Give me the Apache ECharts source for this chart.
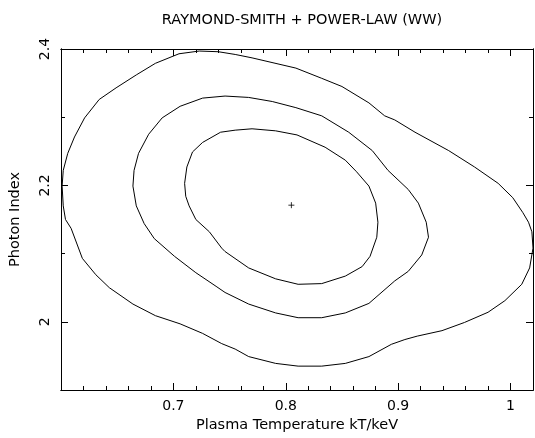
<!DOCTYPE html>
<html><head><meta charset="utf-8">
<script src="https://cdn.jsdelivr.net/npm/echarts@6/dist/echarts.min.js"></script>
<style>html,body{margin:0;padding:0;background:#fff}#c{width:535px;height:438px}</style>
</head><body><div id="c"></div>
<script>
const titleText = 'RAYMOND-SMITH + POWER-LAW (WW)';
const xName = 'Plasma Temperature kT/keV';
const yName = 'Photon Index';
const xRange = [0.6, 1.02];
const yRange = [1.9, 2.4];
const xMajorTicks = [0.7, 0.8, 0.9, 1.0];
const xMinorTicks = [0.62, 0.64, 0.66, 0.68, 0.72, 0.74, 0.76, 0.78, 0.82, 0.84, 0.86, 0.88, 0.92, 0.94, 0.96, 0.98];
const yMajorTicks = [2.0, 2.2, 2.4];
const yMinorTicks = [2.1, 2.3];
const bestFit = [0.805, 2.171];

const innerContour = [
  [0.710, 2.203], [0.712, 2.227], [0.717, 2.249], [0.726, 2.263], [0.742, 2.278], [0.755, 2.281],
  [0.770, 2.283], [0.791, 2.280], [0.810, 2.274], [0.835, 2.256], [0.853, 2.237], [0.863, 2.220],
  [0.874, 2.199], [0.880, 2.174], [0.882, 2.146], [0.881, 2.124], [0.875, 2.096], [0.868, 2.081],
  [0.853, 2.067], [0.832, 2.056], [0.811, 2.055], [0.791, 2.063], [0.767, 2.079], [0.746, 2.103],
  [0.743, 2.108], [0.732, 2.132], [0.720, 2.150], [0.714, 2.170], [0.711, 2.184], [0.710, 2.203]
];
const middleContour = [
  [0.664, 2.199], [0.665, 2.222], [0.669, 2.247], [0.678, 2.275], [0.690, 2.299], [0.706, 2.316],
  [0.726, 2.328], [0.746, 2.331], [0.767, 2.329], [0.788, 2.323], [0.809, 2.314], [0.832, 2.302],
  [0.856, 2.278], [0.877, 2.251], [0.891, 2.222], [0.909, 2.194], [0.918, 2.174], [0.925, 2.146],
  [0.927, 2.124], [0.921, 2.098], [0.909, 2.074], [0.897, 2.060], [0.874, 2.027], [0.853, 2.013],
  [0.832, 2.006], [0.811, 2.006], [0.791, 2.013], [0.767, 2.026], [0.746, 2.043], [0.738, 2.052],
  [0.720, 2.072], [0.701, 2.096], [0.683, 2.122], [0.674, 2.144], [0.667, 2.170], [0.664, 2.199]
];
const outerContour = [
  [0.601, 2.199], [0.602, 2.222], [0.606, 2.247], [0.612, 2.271], [0.621, 2.299], [0.634, 2.326],
  [0.649, 2.343], [0.667, 2.362], [0.684, 2.379], [0.705, 2.393], [0.723, 2.397], [0.740, 2.396],
  [0.755, 2.392], [0.770, 2.387], [0.809, 2.372], [0.832, 2.357], [0.850, 2.345], [0.874, 2.321],
  [0.888, 2.302], [0.897, 2.296], [0.915, 2.278], [0.945, 2.251], [0.968, 2.227], [0.989, 2.203],
  [1.002, 2.182], [1.011, 2.160], [1.016, 2.146], [1.019, 2.132], [1.020, 2.108], [1.017, 2.079],
  [1.010, 2.055], [0.995, 2.031], [0.980, 2.014], [0.959, 1.999], [0.939, 1.987], [0.917, 1.979],
  [0.906, 1.974], [0.894, 1.967], [0.874, 1.949], [0.853, 1.939], [0.832, 1.935], [0.811, 1.935],
  [0.791, 1.939], [0.767, 1.949], [0.755, 1.960], [0.743, 1.968], [0.726, 1.983], [0.706, 1.997],
  [0.684, 2.009], [0.664, 2.026], [0.643, 2.050], [0.631, 2.069], [0.619, 2.093], [0.609, 2.137],
  [0.604, 2.150], [0.602, 2.170], [0.601, 2.199]
];

const FONT = 'DejaVu Sans';
const INK = '#000';

function axis(pos, range, ticks, len, opts) {
  return Object.assign({
    type: 'value', position: pos, min: range[0], max: range[1],
    axisLine: { show: true, onZero: false, lineStyle: { color: INK, width: 1 } },
    axisTick: { show: true, inside: true, length: len, customValues: ticks, lineStyle: { color: INK, width: 1 } },
    axisLabel: { show: false },
    splitLine: { show: false },
    minorTick: { show: false }
  }, opts || {});
}

const chart = echarts.init(document.getElementById('c'), null, { renderer: 'canvas' });
chart.setOption({
  animation: false,
  backgroundColor: '#fff',
  title: {
    text: titleText, left: 297, top: 8, textAlign: 'center',
    textStyle: { fontFamily: FONT, fontSize: 14.5, fontWeight: 'normal', color: INK }
  },
  grid: { left: 60, top: 49, width: 473, height: 347, containLabel: false },
  xAxis: [
    axis('bottom', xRange, xMajorTicks, 7, {
      axisLabel: { show: true, customValues: xMajorTicks, color: INK, fontFamily: FONT, fontSize: 14, margin: 9 },
      name: xName, nameLocation: 'middle', nameGap: 28,
      nameTextStyle: { fontFamily: FONT, fontSize: 14.5, color: INK }
    }),
    axis('bottom', xRange, xMinorTicks, 4),
    axis('top', xRange, xMajorTicks, 7),
    axis('top', xRange, xMinorTicks, 4)
  ],
  yAxis: [
    axis('left', yRange, yMajorTicks, 7, {
      axisLabel: { show: true, customValues: yMajorTicks, rotate: 90, color: INK, fontFamily: FONT, fontSize: 14, margin: 9 },
      name: yName, nameLocation: 'middle', nameGap: 38, nameRotate: 90,
      nameTextStyle: { fontFamily: FONT, fontSize: 14.5, color: INK }
    }),
    axis('left', yRange, yMinorTicks, 4),
    axis('right', yRange, yMajorTicks, 7),
    axis('right', yRange, yMinorTicks, 4)
  ],
  series: [
    { type: 'line', data: outerContour, showSymbol: false, lineStyle: { color: INK, width: 1 }, smooth: false, silent: true },
    { type: 'line', data: middleContour, showSymbol: false, lineStyle: { color: INK, width: 1 }, smooth: false, silent: true },
    { type: 'line', data: innerContour, showSymbol: false, lineStyle: { color: INK, width: 1 }, smooth: false, silent: true },
    {
      type: 'scatter', data: [bestFit], symbol: 'path://M0,5L10,5M5,0L5,10', symbolSize: 6,
      itemStyle: { color: 'rgba(0,0,0,0)', borderColor: INK, borderWidth: 1 }, silent: true
    }
  ]
});
</script>
</body></html>
